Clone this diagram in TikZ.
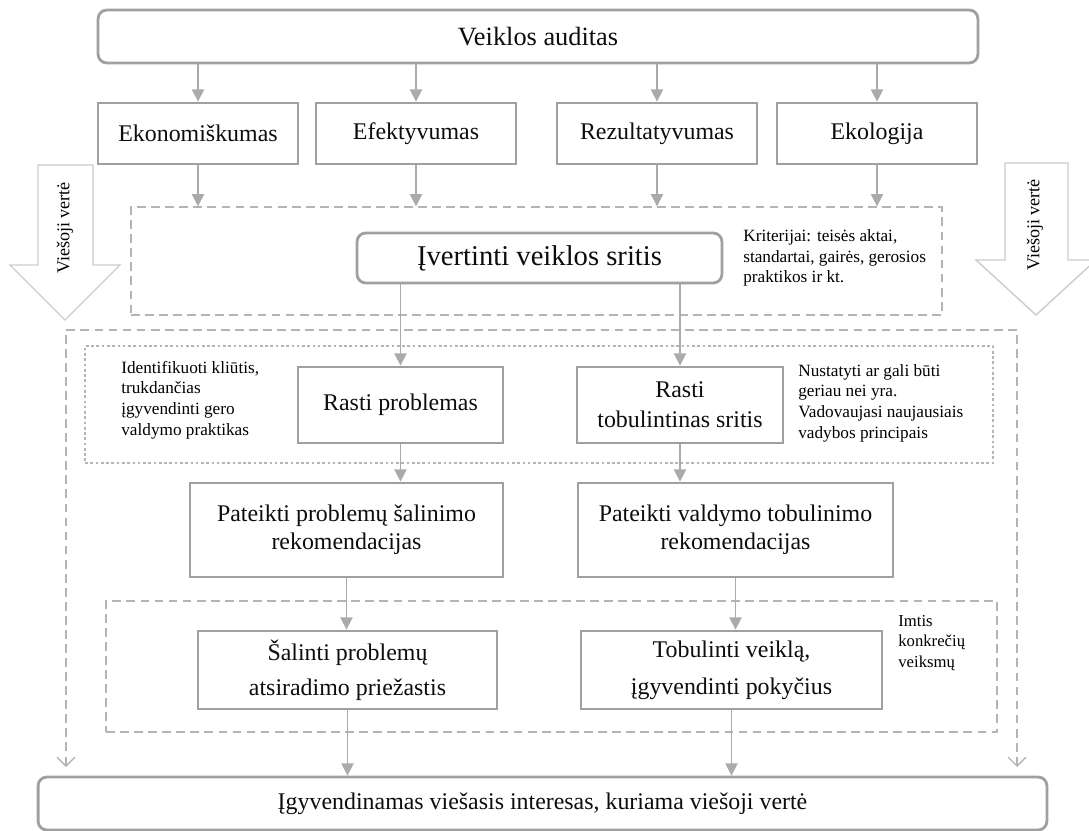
\documentclass[tikz,border=0pt]{standalone}
\usepackage{fontspec}
\setmainfont{Liberation Serif}
\usepackage{xcolor}
\usepackage{tikz}
\usetikzlibrary{arrows.meta,positioning,calc}

\definecolor{boxgray}{RGB}{160,160,160}
\definecolor{linegray}{RGB}{170,170,170}
\definecolor{dashgray}{RGB}{180,180,180}
\definecolor{bigarrow}{RGB}{205,205,205}

\begin{document}
\begin{tikzpicture}[x=0.02cm, y=-0.02cm,
  box/.style={draw=boxgray, line width=1.6pt, fill=white, align=center, inner sep=2pt,
    font=\fontsize{13.6}{16}\selectfont, text=black!95},
  roundbox/.style={box, rounded corners=5pt},
  arr/.style={draw=linegray, line width=0.9pt, -{Triangle[length=7pt,width=7pt]}},
  frame/.style={draw=dashgray, line width=0.8pt, dash pattern=on 5pt off 3pt},
  dotframe/.style={draw=dashgray, line width=0.8pt, dash pattern=on 1.5pt off 1.5pt},
  note/.style={anchor=west, align=left, inner sep=0pt, font=\fontsize{9.8}{11.8}\selectfont},
  valarrow/.style={draw=bigarrow, line width=0.8pt, fill=white}]

\useasboundingbox (0,0) rectangle (1089,831);

% Public value arrows
\draw[valarrow] (38,165) -- (93,165) -- (93,265) -- (120,265) -- (65,320) -- (10,265) -- (38,265) -- cycle;
\draw[valarrow] (1005,163) -- (1068,163) -- (1068,260) -- (1096,260) -- (1036,315) -- (976,260) -- (1005,260) -- cycle;
\node[rotate=90, font=\fontsize{10.3}{12}\selectfont] (valL) at (65,228) {Viešoji vertė};
\node[rotate=90, font=\fontsize{10.3}{12}\selectfont] (valR) at (1035,225) {Viešoji vertė};

% Audit and its four aspects
\node[roundbox, minimum width=17.6cm, minimum height=1.06cm, font=\fontsize{15}{18}\selectfont] (audit) at (538,36.5) {Veiklos auditas};
\node[frame, minimum width=16.22cm, minimum height=2.16cm] (crit) at (536.5,261) {};
\foreach \n/\x/\lbl in {eko/198/Ekonomiškumas, efe/416/Efektyvumas, rez/657/Rezultatyvumas, ekl/877/Ekologija} {
    \node[box, minimum width=4cm, minimum height=1.22cm] (\n) at (\x,133.5) {\lbl};
    \draw[arr] (audit.south -| \n) -- (\n);
    \draw[arr] (\n) -- (\n |- crit.north);
}

% Assessment
\node[roundbox, minimum width=7.3cm, minimum height=1cm, font=\fontsize{16.3}{19}\selectfont] (ivert) at (539.5,258) {Įvertinti veiklos sritis};
\node[note] (critnote) at (743,258) {Kriterijai: teisės aktai,\\standartai, gairės, gerosios\\praktikos ir kt.};

% Outer frame running down to the result
\coordinate (outL) at (66,767);
\coordinate (outR) at (1017,767);
\draw[frame, {Straight Barb[length=5pt,width=10pt]}-{Straight Barb[length=5pt,width=10pt]}] (outL) -- (66,330) -- (1017,330) -- (outR);

% Findings
\node[dotframe, minimum width=18.16cm, minimum height=2.34cm] (find) at (539,404.5) {};
\node[box, minimum width=4.1cm, minimum height=1.52cm] (probl) at (400.5,405) {Rasti problemas};
\node[box, minimum width=4.12cm, minimum height=1.52cm, font=\fontsize{13.6}{17}\selectfont] (tobul) at (680,405) {Rasti\\tobulintinas sritis};
\node[note] (problnote) at (121,400) {Identifikuoti kliūtis,\\trukdančias\\įgyvendinti gero\\valdymo praktikas};
\node[note] (tobulnote) at (798,403) {Nustatyti ar gali būti\\geriau nei yra.\\Vadovaujasi naujausiais\\vadybos principais};
\draw[arr] (ivert.south -| probl) -- (probl);
\draw[arr] (ivert.south -| tobul) -- (tobul);

% Recommendations
\node[box, minimum width=6.26cm, minimum height=1.88cm] (recP) at (346.5,530) {Pateikti problemų šalinimo\\rekomendacijas};
\node[box, minimum width=6.3cm, minimum height=1.88cm] (recV) at (735.5,530) {Pateikti valdymo tobulinimo\\rekomendacijas};
\draw[arr] (probl) -- (probl |- recP.north);
\draw[arr] (tobul) -- (tobul |- recV.north);

% Actions
\node[frame, minimum width=17.82cm, minimum height=2.62cm] (act) at (551.5,666.5) {};
\node[box, minimum width=5.98cm, minimum height=1.56cm, font=\fontsize{13.6}{20}\selectfont] (salin) at (347.5,670) {Šalinti problemų\\atsiradimo priežastis};
\node[box, minimum width=6.02cm, minimum height=1.56cm, font=\fontsize{13.6}{21}\selectfont] (tobV) at (731.5,670) {Tobulinti veiklą,\\įgyvendinti pokyčius};
\node[note, font=\fontsize{9.5}{11.5}\selectfont] (actnote) at (898,643) {Imtis\\konkrečių\\veiksmų};
\draw[arr] (recP) -- (recP |- salin.north);
\draw[arr] (recV) -- (recV |- tobV.north);

% Result
\node[roundbox, minimum width=20.18cm, minimum height=1.06cm] (goal) at (542.5,803.5) {Įgyvendinamas viešasis interesas, kuriama viešoji vertė};
\draw[arr] (salin) -- (salin |- goal.north);
\draw[arr] (tobV) -- (tobV |- goal.north);
\end{tikzpicture}
\end{document}
